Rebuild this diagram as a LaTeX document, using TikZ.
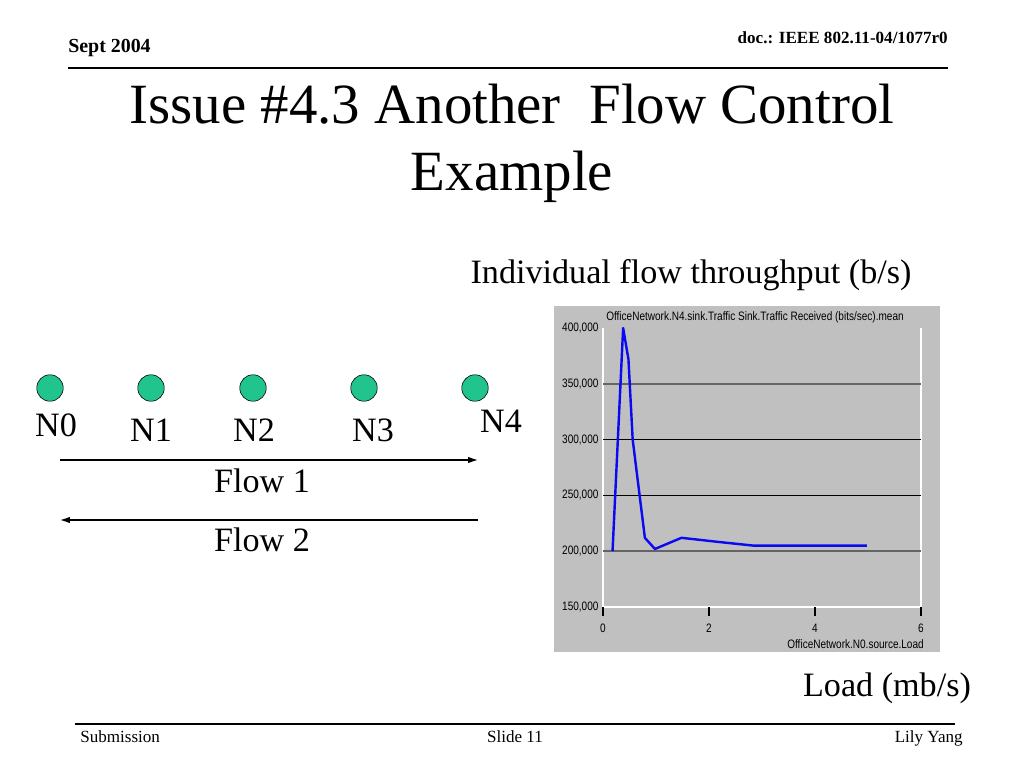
\documentclass[tikz,border=0pt]{standalone}
\usepackage{fontspec}
\usetikzlibrary{arrows.meta}
\setmainfont{Liberation Serif}
\newfontfamily\chartfont[FakeStretch=0.82]{Liberation Sans}
\definecolor{nodegreen}{RGB}{32,196,140}
\definecolor{chartbg}{RGB}{192,192,192}
\definecolor{gridgray}{RGB}{100,100,100}
\definecolor{curveblue}{RGB}{10,10,240}
\begin{document}
\begin{tikzpicture}[x=0.703125pt,y=-0.703125pt,>={Latex[length=7pt,width=4.6pt]},
  nodedot/.style={circle,draw=black,fill=nodegreen,minimum size=18.6pt,inner sep=0pt},
  slidetext/.style={inner sep=0pt,font=\fontsize{24}{28}\selectfont},
  smalltext/.style={inner sep=0pt,font=\fontsize{12}{14}\selectfont},
  charttext/.style={inner sep=0pt,font=\chartfont\fontsize{8.6}{9}\selectfont}]
\useasboundingbox[fill=white] (0,0) rectangle (1024,768);
\draw[line width=1.4pt](68,68) -- (948,68);
\draw[](68,52.5) node[smalltext,anchor=base west,font=\bfseries\fontsize{14}{16}\selectfont] (date) {Sept 2004};
\draw[](948,43.5) node[smalltext,anchor=base east,font=\bfseries\fontsize{12}{14}\selectfont] (docid) {doc.: IEEE 802.11-04/1077r0};
\draw[](512,124) node[inner sep=0pt,anchor=base,font=\fontsize{40}{47}\selectfont] (title1) {Issue \#4.3 Another\ \ Flow Control};
\draw[](512,191) node[inner sep=0pt,anchor=base,font=\fontsize{40}{47}\selectfont] (title2) {Example};
\foreach \i/\x in {0/50,1/151,2/253,3/364,4/475}
  \draw[](\x,388) node[nodedot] (n\i) {};
\draw[](56,425) node[slidetext] (lab0) {N0};
\draw[](151,430) node[slidetext] (lab1) {N1};
\draw[](254,430) node[slidetext] (lab2) {N2};
\draw[](373,430) node[slidetext] (lab3) {N3};
\draw[](501,421) node[slidetext] (lab4) {N4};
\coordinate (fa) at (60,460);
\coordinate (fb) at (478,460);
\coordinate (fc) at (478,520);
\coordinate (fd) at (60,520);
\draw[->,line width=0.9pt](fa) -- (fb);
\draw[->,line width=0.9pt](fc) -- (fd);
\draw[](262,481) node[slidetext] (flowa) {Flow 1};
\draw[](262,540) node[slidetext] (flowb) {Flow 2};
\draw[](691,284) node[slidetext,anchor=base] (ylab) {Individual flow throughput (b/s)};
\draw[](887,696) node[slidetext,anchor=base] (xlab) {Load (mb/s)};
\fill[chartbg](554,306) rectangle (940,652);
\draw[](755,317) node[charttext] (ctitle) {OfficeNetwork.N4.sink.Traffic Sink.Traffic Received (bits/sec).mean};
\draw[](924,644) node[charttext,anchor=east] (cxlab) {OfficeNetwork.N0.source.Load};
\begin{scope}[shift={(603,774.4)},xscale=53,yscale=-11.16]
\draw[white,line width=1pt](0,40) -- (0,15) -- (6,15) -- (6,40);
\draw[gridgray,line width=1.6pt](0,35) -- (6,35);
\draw[black,line width=0.6pt](0,30) -- (6,30);
\draw[black,line width=0.6pt](0,25) -- (6,25);
\draw[gridgray,line width=1.6pt](0,20) -- (6,20);
\foreach \x in {0,2,4,6}{
  \draw[black,line width=0.8pt](\x,15) -- (\x,14.2);
  \draw[](\x,13.1) node[charttext] (xt\x) {\x};
}
\foreach \v/\t in {15/{150,000},20/{200,000},25/{250,000},30/{300,000},35/{350,000},40/{400,000}}
  \draw[](-0.08,\v) node[charttext,anchor=east] (yt\v) {\t};
\draw[curveblue,line width=1.7pt,line join=round](0.18,20) -- (0.38,40) -- (0.48,37.2) -- (0.56,30) -- (0.79,21.2) -- (0.98,20.2) -- (1.48,21.2) -- (2.14,20.85) -- (2.84,20.5) -- (4.98,20.5);
\end{scope}
\draw[line width=1.4pt](75,724) -- (955,724);
\draw[](80,742.5) node[smalltext,anchor=base west] (subm) {Submission};
\draw[](515,742.5) node[smalltext,anchor=base] (slide) {Slide 11};
\draw[](963,742.5) node[smalltext,anchor=base east] (auth) {Lily Yang};
\end{tikzpicture}
\end{document}
